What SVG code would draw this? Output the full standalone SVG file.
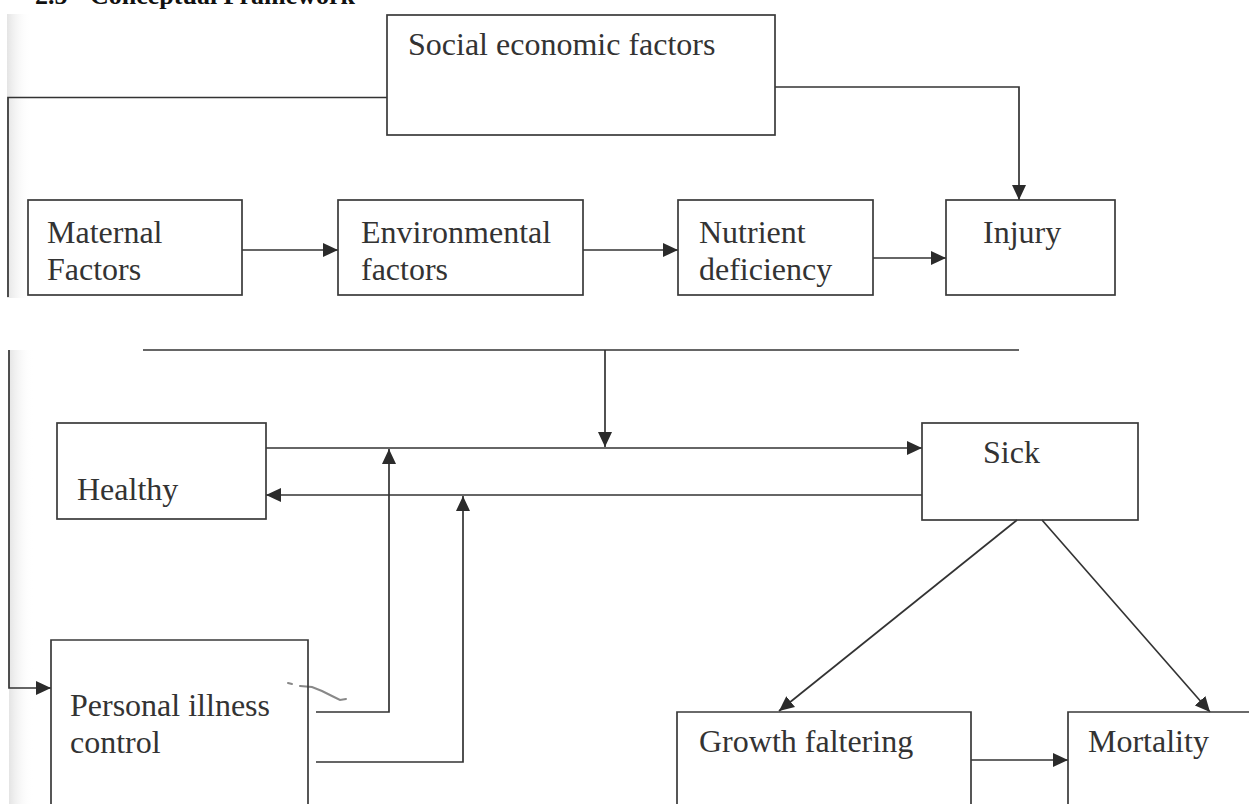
<svg xmlns="http://www.w3.org/2000/svg" width="1249" height="804" viewBox="0 0 1249 804">
<defs>
<marker id="ah" markerUnits="userSpaceOnUse" markerWidth="16" markerHeight="14" refX="15" refY="7" orient="auto">
<path d="M0,0 L15,7 L0,14 Z" fill="#2b2b2b"/>
</marker>
<linearGradient id="scan" x1="0" y1="0" x2="1" y2="0">
<stop offset="0" stop-color="#e4e4e4"/>
<stop offset="1" stop-color="#ffffff" stop-opacity="0"/>
</linearGradient>
</defs>
<style>
.box{fill:none;stroke:#3a3a3a;stroke-width:1.7}
.con{fill:none;stroke:#333;stroke-width:1.7}
.lbl{font-family:"Liberation Serif","Times New Roman",serif;font-size:32px;fill:#333}
.title{font-family:"Liberation Serif","Times New Roman",serif;font-size:26px;font-weight:bold;fill:#111}
</style>
<rect width="1249" height="804" fill="#ffffff"/>
<rect x="7" y="14" width="24" height="284" fill="url(#scan)"/>
<rect x="9" y="350" width="24" height="454" fill="url(#scan)"/>
<text class="title" x="35" y="4">2.5</text>
<text class="title" x="90" y="4">Conceptual Framework</text>
<path d="M288,683 L292,684 M300,686 L312,687 L322,691 L332,696 L340,700 L346,699" fill="none" stroke="#555" stroke-width="2" stroke-linecap="round" opacity="0.7"/>

<g id="connectors">
<path class="con" d="M8,297 V97.5 H387"/>
<path class="con" d="M775,87 H1019 V200" marker-end="url(#ah)"/>
<path class="con" d="M242,250 H338" marker-end="url(#ah)"/>
<path class="con" d="M583,250 H678" marker-end="url(#ah)"/>
<path class="con" d="M873,258 H946" marker-end="url(#ah)"/>
<path class="con" d="M143,350 H1019"/>
<path class="con" d="M605,350 V447" marker-end="url(#ah)"/>
<path class="con" d="M266,448 H922" marker-end="url(#ah)"/>
<path class="con" d="M922,495 H266" marker-end="url(#ah)"/>
<path class="con" d="M316,712 H389 V449" marker-end="url(#ah)"/>
<path class="con" d="M316,762 H463 V496" marker-end="url(#ah)"/>
<path class="con" d="M9,350 V688 H51" marker-end="url(#ah)"/>
<path class="con" d="M1017,520 L779,711" marker-end="url(#ah)"/>
<path class="con" d="M1042,520 L1210,712" marker-end="url(#ah)"/>
<path class="con" d="M971,760 H1068" marker-end="url(#ah)"/>
</g>

<g id="social">
<rect class="box" x="387" y="15" width="388" height="120"/>
<text class="lbl" x="408" y="55">Social economic factors</text>
</g>
<g id="maternal">
<rect class="box" x="28" y="200" width="214" height="95"/>
<text class="lbl" x="47" y="243">Maternal</text>
<text class="lbl" x="47" y="280">Factors</text>
</g>
<g id="environmental">
<rect class="box" x="338" y="200" width="245" height="95"/>
<text class="lbl" x="361" y="243">Environmental</text>
<text class="lbl" x="361" y="280">factors</text>
</g>
<g id="nutrient">
<rect class="box" x="678" y="200" width="195" height="95"/>
<text class="lbl" x="699" y="243">Nutrient</text>
<text class="lbl" x="699" y="280">deficiency</text>
</g>
<g id="injury">
<rect class="box" x="946" y="200" width="169" height="95"/>
<text class="lbl" x="983" y="243">Injury</text>
</g>
<g id="healthy">
<rect class="box" x="57" y="423" width="209" height="96"/>
<text class="lbl" x="77" y="500">Healthy</text>
</g>
<g id="sick">
<rect class="box" x="922" y="423" width="216" height="97"/>
<text class="lbl" x="983" y="463">Sick</text>
</g>
<g id="personal">
<path class="box" d="M51,804 V640 H308 V804"/>
<text class="lbl" x="70" y="716">Personal illness</text>
<text class="lbl" x="70" y="753">control</text>
</g>
<g id="growth">
<path class="box" d="M677,804 V712 H971 V804"/>
<text class="lbl" x="699" y="752">Growth faltering</text>
</g>
<g id="mortality">
<path class="box" d="M1068,804 V712 H1249"/>
<text class="lbl" x="1088" y="752">Mortality</text>
</g>
</svg>
